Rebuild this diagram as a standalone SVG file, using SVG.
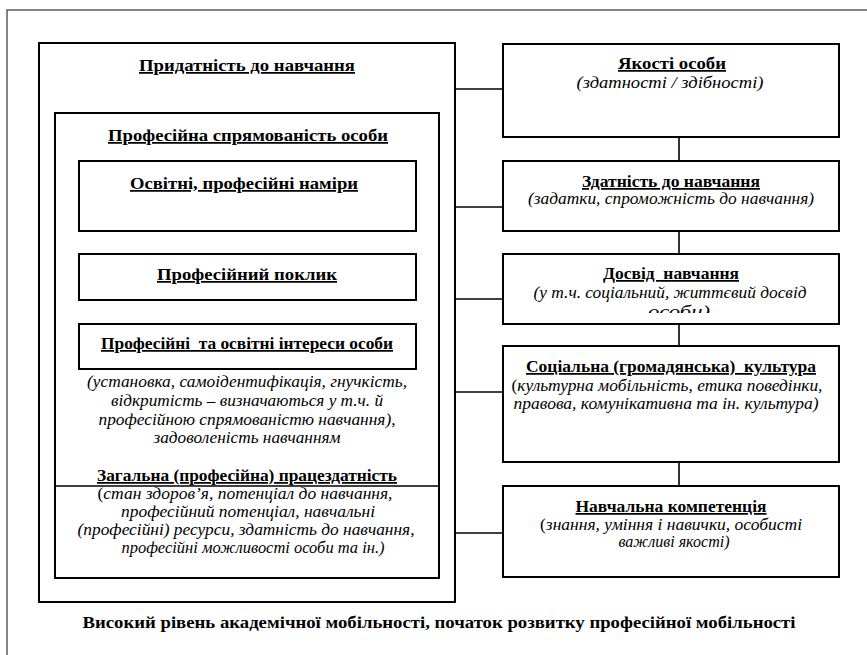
<svg xmlns="http://www.w3.org/2000/svg" width="867" height="655" viewBox="0 0 867 655" font-family="'Liberation Serif','Times New Roman',serif">
<style>
.frame{fill:none;stroke:#333;stroke-width:1.2}
.box{fill:#fff;stroke:#000;stroke-width:2}
.cn{stroke:#000;stroke-width:1.6;fill:none}
text{font-family:'Liberation Serif','Times New Roman',serif;fill:#000;text-anchor:middle;white-space:pre}
.h{font-size:17.5px;font-weight:bold;text-decoration:underline}
.i{font-size:17px;font-style:italic}
.n{font-style:normal}
.b{font-size:16px;font-weight:bold}
</style>
<defs>
<clipPath id="clipDosvid"><rect x="503" y="254" width="336" height="59"/></clipPath>
</defs>
<rect class="frame" x="7" y="10" width="900" height="700"/>
<g id="connectors">
<line class="cn" x1="455" y1="89" x2="503" y2="89"/>
<line class="cn" x1="455" y1="207" x2="503" y2="207"/>
<line class="cn" x1="455" y1="299" x2="503" y2="299"/>
<line class="cn" x1="455" y1="392" x2="503" y2="392"/>
<line class="cn" x1="455" y1="533" x2="503" y2="533"/>
<line class="cn" x1="679" y1="137" x2="679" y2="161"/>
<line class="cn" x1="679" y1="231" x2="679" y2="254"/>
<line class="cn" x1="679" y1="324" x2="679" y2="346"/>
<line class="cn" x1="679" y1="462" x2="679" y2="486"/>
</g>
<g id="prydatnist">
<rect class="box" x="39" y="43" width="416" height="559"/>
<text class="h" x="247" y="71" textLength="216" lengthAdjust="spacingAndGlyphs">Придатність до навчання</text>
</g>
<g id="spriamovanist">
<rect class="box" x="55" y="113" width="384" height="465"/>
<text class="h" x="248" y="141" textLength="280" lengthAdjust="spacingAndGlyphs">Професійна спрямованість особи</text>
<text class="i" x="247" y="387" textLength="320" lengthAdjust="spacingAndGlyphs">(установка, самоідентифікація, гнучкість,</text>
<text class="i" x="247" y="406" textLength="272" lengthAdjust="spacingAndGlyphs">відкритість – визначаються у т.ч. й</text>
<text class="i" x="247" y="425" textLength="297" lengthAdjust="spacingAndGlyphs">професійною спрямованістю навчання),</text>
<text class="i" x="247" y="443" textLength="187" lengthAdjust="spacingAndGlyphs">задоволеність навчанням</text>
</g>
<g id="pratsezdatnist">
<line class="cn" x1="55" y1="486" x2="439" y2="486"/>
<text class="h" x="247" y="481" textLength="300" lengthAdjust="spacingAndGlyphs">Загальна (професійна) працездатність</text>
<text class="i" x="245" y="499" textLength="295" lengthAdjust="spacingAndGlyphs"><tspan class="n">(</tspan>стан здоров’я, потенціал до навчання,</text>
<text class="i" x="248" y="517" textLength="254" lengthAdjust="spacingAndGlyphs">професійний потенціал, навчальні</text>
<text class="i" x="246" y="535" textLength="337" lengthAdjust="spacingAndGlyphs">(професійні) ресурси, здатність до навчання,</text>
<text class="i" x="253" y="553" textLength="263" lengthAdjust="spacingAndGlyphs">професійні можливості особи та ін.)</text>
</g>
<g id="namiry">
<rect class="box" x="79" y="161" width="337" height="70"/>
<text class="h" x="244" y="189" textLength="228" lengthAdjust="spacingAndGlyphs">Освітні, професійні наміри</text>
</g>
<g id="poklyk">
<rect class="box" x="79" y="254" width="337" height="46"/>
<text class="h" x="247" y="280" textLength="180" lengthAdjust="spacingAndGlyphs">Професійний поклик</text>
</g>
<g id="interesy">
<rect class="box" x="79" y="324" width="337" height="45"/>
<text class="h" x="247" y="349" textLength="292" lengthAdjust="spacingAndGlyphs">Професійні  та освітні інтереси особи</text>
</g>
<g id="yakosti">
<rect class="box" x="503" y="44" width="336" height="93"/>
<text class="h" x="672" y="69" textLength="108" lengthAdjust="spacingAndGlyphs">Якості особи</text>
<text class="i" x="670" y="88" textLength="187" lengthAdjust="spacingAndGlyphs">(здатності / здібності)</text>
</g>
<g id="zdatnist">
<rect class="box" x="503" y="161" width="336" height="70"/>
<text class="h" x="671" y="187" textLength="178" lengthAdjust="spacingAndGlyphs">Здатність до навчання</text>
<text class="i" x="671" y="204" textLength="286" lengthAdjust="spacingAndGlyphs">(задатки, спроможність до навчання)</text>
</g>
<g id="dosvid">
<rect class="box" x="503" y="254" width="336" height="70"/>
<text class="h" x="671" y="279" textLength="136" lengthAdjust="spacingAndGlyphs">Досвід  навчання</text>
<text class="i" x="670" y="298" textLength="273" lengthAdjust="spacingAndGlyphs">(у т.ч. соціальний, життєвий досвід</text>
<text class="i" x="679" y="317" textLength="62" lengthAdjust="spacingAndGlyphs" clip-path="url(#clipDosvid)">особи)</text>
</g>
<g id="kultura">
<rect class="box" x="503" y="346" width="336" height="116"/>
<text class="h" x="671" y="372" textLength="290" lengthAdjust="spacingAndGlyphs">Соціальна (громадянська)  культура</text>
<text class="i" x="667" y="391" textLength="311" lengthAdjust="spacingAndGlyphs"><tspan class="n">(</tspan>культурна мобільність, етика поведінки,</text>
<text class="i" x="666" y="409" textLength="305" lengthAdjust="spacingAndGlyphs">правова, комунікативна та ін. культура)</text>
</g>
<g id="kompetentsiia">
<rect class="box" x="503" y="486" width="336" height="91"/>
<text class="h" x="671" y="512" textLength="191" lengthAdjust="spacingAndGlyphs">Навчальна компетенція</text>
<text class="i" x="671" y="530" textLength="262" lengthAdjust="spacingAndGlyphs"><tspan class="n">(</tspan>знання, уміння і навички, особисті</text>
<text class="i" x="674" y="547" textLength="111" lengthAdjust="spacingAndGlyphs">важливі якості)</text>
</g>
<g id="result">
<text class="b" x="439" y="628" textLength="713" lengthAdjust="spacingAndGlyphs">Високий рівень академічної мобільності, початок розвитку професійної мобільності</text>
</g>
</svg>
